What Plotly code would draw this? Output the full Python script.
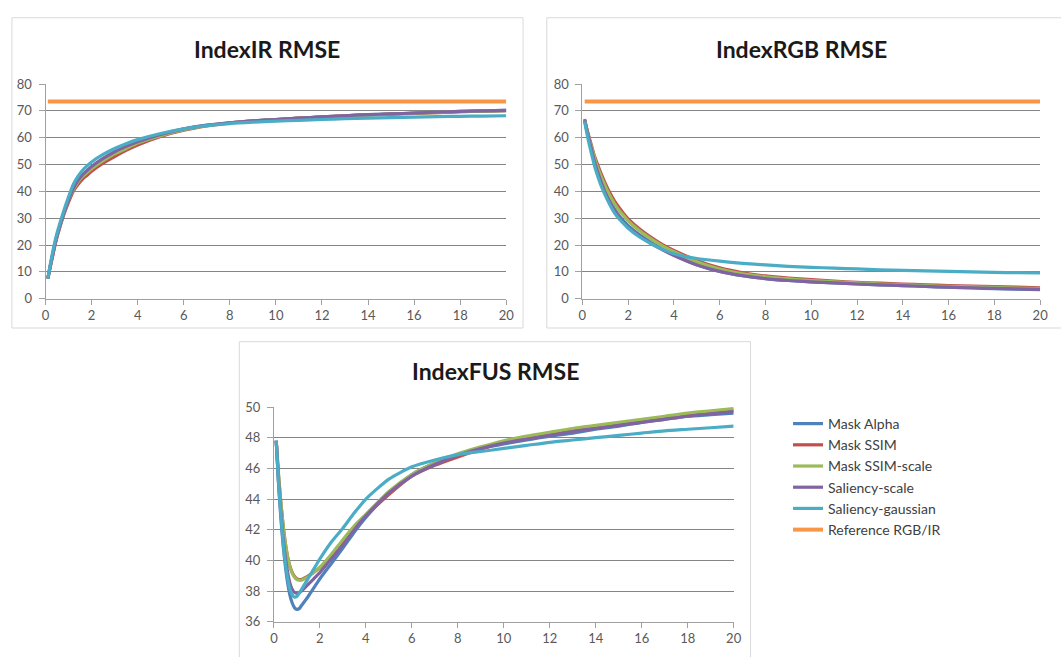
import plotly.graph_objects as go

# ---------------- data ----------------
x_main = [0.1, 0.2, 0.3, 0.4, 0.5, 0.6, 0.8, 1.0, 1.2, 1.4, 1.6, 1.8, 2.0, 2.5, 3, 3.5, 4,
          5, 6, 7, 8, 9, 10, 11, 12, 13, 14, 15, 16, 17, 18, 19, 20]

ir_mask_alpha = [7.5, 12, 16, 20, 23.5, 26.5, 32, 37, 41, 44, 46, 47.5, 49, 52, 54.5, 56.5, 58.2,
                 61, 63.2, 64.6, 65.6, 66.3, 66.8, 67.3, 67.8, 68.2, 68.6, 68.9, 69.2, 69.5, 69.8, 70.0, 70.2]
ir_mask_ssim = [7.5, 11.5, 15.5, 19.5, 23, 26, 31.5, 36, 40, 42.5, 44.5, 46, 47.5, 50.5, 53, 55.3, 57.3,
                60.5, 62.8, 64.4, 65.5, 66.2, 66.8, 67.3, 67.8, 68.2, 68.5, 68.8, 69.1, 69.4, 69.7, 69.9, 70.1]
ir_mask_ssim_scale = [7.5, 12, 16, 20, 23.5, 26.5, 32, 37, 40.5, 43.5, 45.5, 47, 48.5, 51.5, 54, 56, 58,
                      60.8, 63, 64.5, 65.5, 66.2, 66.7, 67.2, 67.7, 68.1, 68.5, 68.8, 69.1, 69.4, 69.7, 69.9, 70.1]
ir_saliency_scale = [7.5, 12, 16, 20, 23.5, 26.5, 32, 37, 41, 44, 46.2, 47.8, 49.3, 52.3, 54.8, 56.8, 58.5,
                     61.2, 63.3, 64.7, 65.6, 66.3, 66.8, 67.3, 67.8, 68.2, 68.6, 68.9, 69.2, 69.5, 69.8, 70.0, 70.2]
ir_saliency_gauss = [7.5, 12.5, 17, 21, 24.5, 27.5, 33, 38, 42.5, 45.5, 47.8, 49.5, 51, 53.8, 56, 57.8, 59.3,
                     61.6, 63.3, 64.5, 65.3, 65.8, 66.2, 66.5, 66.8, 67.1, 67.3, 67.5, 67.7, 67.9, 68.0, 68.1, 68.2]
ir_reference = [73.5] * len(x_main)

rgb_mask_alpha = [67, 63, 59.5, 56, 52.5, 49.5, 44.5, 40, 36.5, 33.5, 31, 29, 27.2, 23.8, 21, 18.5, 16.3,
                  12.7, 10.2, 8.6, 7.5, 6.8, 6.3, 5.9, 5.5, 5.2, 4.9, 4.6, 4.3, 4.0, 3.8, 3.6, 3.4]
rgb_mask_ssim = [66.5, 63, 60, 57, 54, 51.5, 47, 43, 39.5, 36.5, 34, 31.8, 29.8, 26, 22.9, 20.2, 18,
                 14.3, 11.5, 9.7, 8.5, 7.7, 7.1, 6.6, 6.1, 5.8, 5.5, 5.2, 4.9, 4.7, 4.5, 4.3, 4.1]
rgb_mask_ssim_scale = [66.5, 62.5, 59.5, 56.5, 53.5, 50.5, 46, 42, 38.5, 35.5, 33, 31, 29, 25.3, 22.3, 19.7, 17.5,
                       13.8, 11.1, 9.3, 8.2, 7.4, 6.8, 6.3, 5.9, 5.5, 5.2, 4.9, 4.6, 4.4, 4.2, 4.0, 3.8]
rgb_saliency_scale = [66.5, 62.5, 59, 55.5, 52, 49, 44, 39.5, 36, 33, 30.5, 28.5, 26.8, 23.4, 20.6, 18.2, 16.1,
                      12.6, 10.2, 8.6, 7.5, 6.8, 6.3, 5.9, 5.5, 5.2, 4.9, 4.6, 4.3, 4.1, 3.9, 3.7, 3.5]
rgb_saliency_gauss = [66, 61.5, 57.5, 54, 50.5, 47.5, 42.5, 38.5, 35, 32, 29.8, 28, 26.3, 23.0, 20.5, 18.4, 16.8,
                      15.0, 14.0, 13.2, 12.6, 12.1, 11.7, 11.4, 11.1, 10.8, 10.6, 10.4, 10.2, 10.0, 9.8, 9.7, 9.6]
rgb_reference = [73.5] * len(x_main)

x_fus = [0.1, 0.2, 0.3, 0.4, 0.5, 0.6, 0.7, 0.8, 0.9, 1.0, 1.1, 1.2, 1.4, 1.6, 1.8, 2.0, 2.5, 3, 3.5, 4,
         5, 6, 7, 8, 9, 10, 11, 12, 13, 14, 15, 16, 17, 18, 19, 20]
fus_mask_alpha = [47.8, 45.0, 42.8, 41.0, 39.6, 38.5, 37.7, 37.2, 36.9, 36.8, 36.85, 37.05, 37.45, 37.9, 38.35, 38.8,
                  39.8, 40.8, 41.85, 42.8, 44.4, 45.6, 46.35, 46.9, 47.3, 47.6, 47.85, 48.1, 48.3, 48.55, 48.75,
                  49.0, 49.2, 49.4, 49.5, 49.6]
fus_mask_ssim = [47.8, 45.6, 43.8, 42.3, 41.1, 40.2, 39.6, 39.2, 38.95, 38.8, 38.75, 38.75, 38.9, 39.1, 39.3, 39.5,
                 40.3, 41.2, 42.1, 42.9, 44.3, 45.5, 46.2, 46.75, 47.25, 47.7, 47.95, 48.25, 48.45, 48.65, 48.9,
                 49.1, 49.3, 49.45, 49.65, 49.8]
fus_mask_ssim_scale = [47.8, 45.6, 43.8, 42.3, 41.1, 40.2, 39.55, 39.15, 38.9, 38.75, 38.7, 38.7, 38.85, 39.05, 39.3,
                       39.55, 40.4, 41.35, 42.25, 43.0, 44.5, 45.6, 46.35, 46.95, 47.4, 47.8, 48.1, 48.35, 48.6,
                       48.8, 49.0, 49.2, 49.4, 49.6, 49.75, 49.9]
fus_saliency_scale = [47.8, 45.2, 43.2, 41.5, 40.2, 39.2, 38.5, 38.1, 37.9, 37.85, 37.9, 38.0, 38.3, 38.6, 38.9, 39.2,
                      40.1, 41.0, 42.0, 42.9, 44.4, 45.5, 46.25, 46.85, 47.3, 47.65, 47.9, 48.15, 48.4, 48.6, 48.8,
                      49.0, 49.2, 49.4, 49.55, 49.7]
fus_saliency_gauss = [47.8, 45.1, 43.0, 41.2, 39.8, 38.8, 38.1, 37.75, 37.6, 37.65, 37.85, 38.1, 38.6, 39.1, 39.6,
                      40.1, 41.2, 42.1, 43.1, 44.0, 45.3, 46.1, 46.55, 46.9, 47.1, 47.3, 47.5, 47.7, 47.85, 48.0,
                      48.15, 48.3, 48.45, 48.55, 48.65, 48.75]

series_names = ["Mask Alpha", "Mask SSIM", "Mask SSIM-scale", "Saliency-scale", "Saliency-gaussian",
                "Reference RGB/IR"]
series_colors = ["#4F81BD", "#C0504D", "#9BBB59", "#8064A2", "#4BACC6", "#F79646"]
titles = ["IndexIR RMSE", "IndexRGB RMSE", "IndexFUS RMSE"]
x_ticks = [0, 2, 4, 6, 8, 10, 12, 14, 16, 18, 20]

# ---------------- figure ----------------
W, H = 1061, 657
fig = go.Figure()

def px_x(p):
    return p / W

def px_y(p):
    return 1 - p / H

ir = [ir_mask_alpha, ir_mask_ssim, ir_mask_ssim_scale, ir_saliency_scale, ir_saliency_gauss, ir_reference]
rgb = [rgb_mask_alpha, rgb_mask_ssim, rgb_mask_ssim_scale, rgb_saliency_scale, rgb_saliency_gauss, rgb_reference]
fus = [fus_mask_alpha, fus_mask_ssim, fus_mask_ssim_scale, fus_saliency_scale, fus_saliency_gauss]

LW = 3.2

# FUS panel first (legend entries for the five methods)
for i, ys in enumerate(fus):
    fig.add_trace(go.Scatter(x=x_fus, y=ys, mode="lines", name=series_names[i],
                             line=dict(color=series_colors[i], width=LW, shape="spline", smoothing=0.6),
                             xaxis="x3", yaxis="y3", showlegend=True, legendgroup=series_names[i]))
for i, ys in enumerate(ir):
    fig.add_trace(go.Scatter(x=x_main, y=ys, mode="lines", name=series_names[i],
                             line=dict(color=series_colors[i], width=4 if i == 5 else LW,
                                       shape="spline", smoothing=0.6),
                             xaxis="x", yaxis="y", showlegend=(i == 5), legendgroup=series_names[i]))
for i, ys in enumerate(rgb):
    fig.add_trace(go.Scatter(x=x_main, y=ys, mode="lines", name=series_names[i],
                             line=dict(color=series_colors[i], width=4 if i == 5 else LW,
                                       shape="spline", smoothing=0.6),
                             xaxis="x2", yaxis="y2", showlegend=False, legendgroup=series_names[i]))

tick_font = dict(family="Lato", size=13, color="#595959")
grid_col = "#858585"
line_col = "#a0a0a0"

def xax(domain, anchor):
    return dict(domain=domain, anchor=anchor, range=[0, 20], tickvals=x_ticks, showgrid=False,
                zeroline=False, showline=True, linecolor=line_col, linewidth=1, ticks="outside",
                ticklen=5, tickcolor=line_col, tickfont=tick_font, fixedrange=True)

def yax(domain, anchor, rng, dt):
    return dict(domain=domain, anchor=anchor, range=rng, dtick=dt, tick0=rng[0], showgrid=True,
                gridcolor=grid_col, gridwidth=1, zeroline=False, showline=True, linecolor=line_col,
                linewidth=1, ticks="outside", ticklen=6, tickcolor=line_col, tickfont=tick_font,
                ticklabelstandoff=4, fixedrange=True)

fig.update_layout(
    width=W, height=H,
    margin=dict(l=0, r=0, t=0, b=0),
    paper_bgcolor="white", plot_bgcolor="white",
    xaxis=xax([px_x(42), px_x(508)], "y"),
    yaxis=yax([px_y(298), px_y(78)], "x", [0, 80], 10),
    xaxis2=xax([px_x(585), px_x(1048)], "y2"),
    yaxis2=yax([px_y(298), px_y(78)], "x2", [0, 80], 10),
    xaxis3=xax([px_x(273), px_x(738)], "y3"),
    yaxis3=yax([px_y(629), px_y(409)], "x3", [36, 50], 2),
    legend=dict(x=px_x(793), y=px_y(410), xanchor="left", yanchor="top",
                font=dict(family="Lato", size=14, color="#404040"),
                bgcolor="rgba(0,0,0,0)", borderwidth=0, itemwidth=30, tracegroupgap=0),
    showlegend=True,
)

# titles
title_pos = [(266, 42), (807, 42), (497, 372)]
for t, (cx, cy) in zip(titles, title_pos):
    fig.add_annotation(text=t, x=px_x(cx), y=px_y(cy), xref="paper", yref="paper",
                       showarrow=False, xanchor="center", yanchor="middle",
                       font=dict(family="Lato", size=23, color="#1a1a1a", weight="bold"))

# panel frames
frames = [(8, 10, 525, 328), (549, 10, 1070, 328), (238, 342, 755, 670)]
for x0, y0, x1, y1 in frames:
    fig.add_shape(type="rect", xref="paper", yref="paper",
                  x0=px_x(x0), x1=px_x(x1), y0=px_y(y1), y1=px_y(y0),
                  line=dict(color="#d9d9d9", width=1), layer="below")

fig.write_html("out.html")
